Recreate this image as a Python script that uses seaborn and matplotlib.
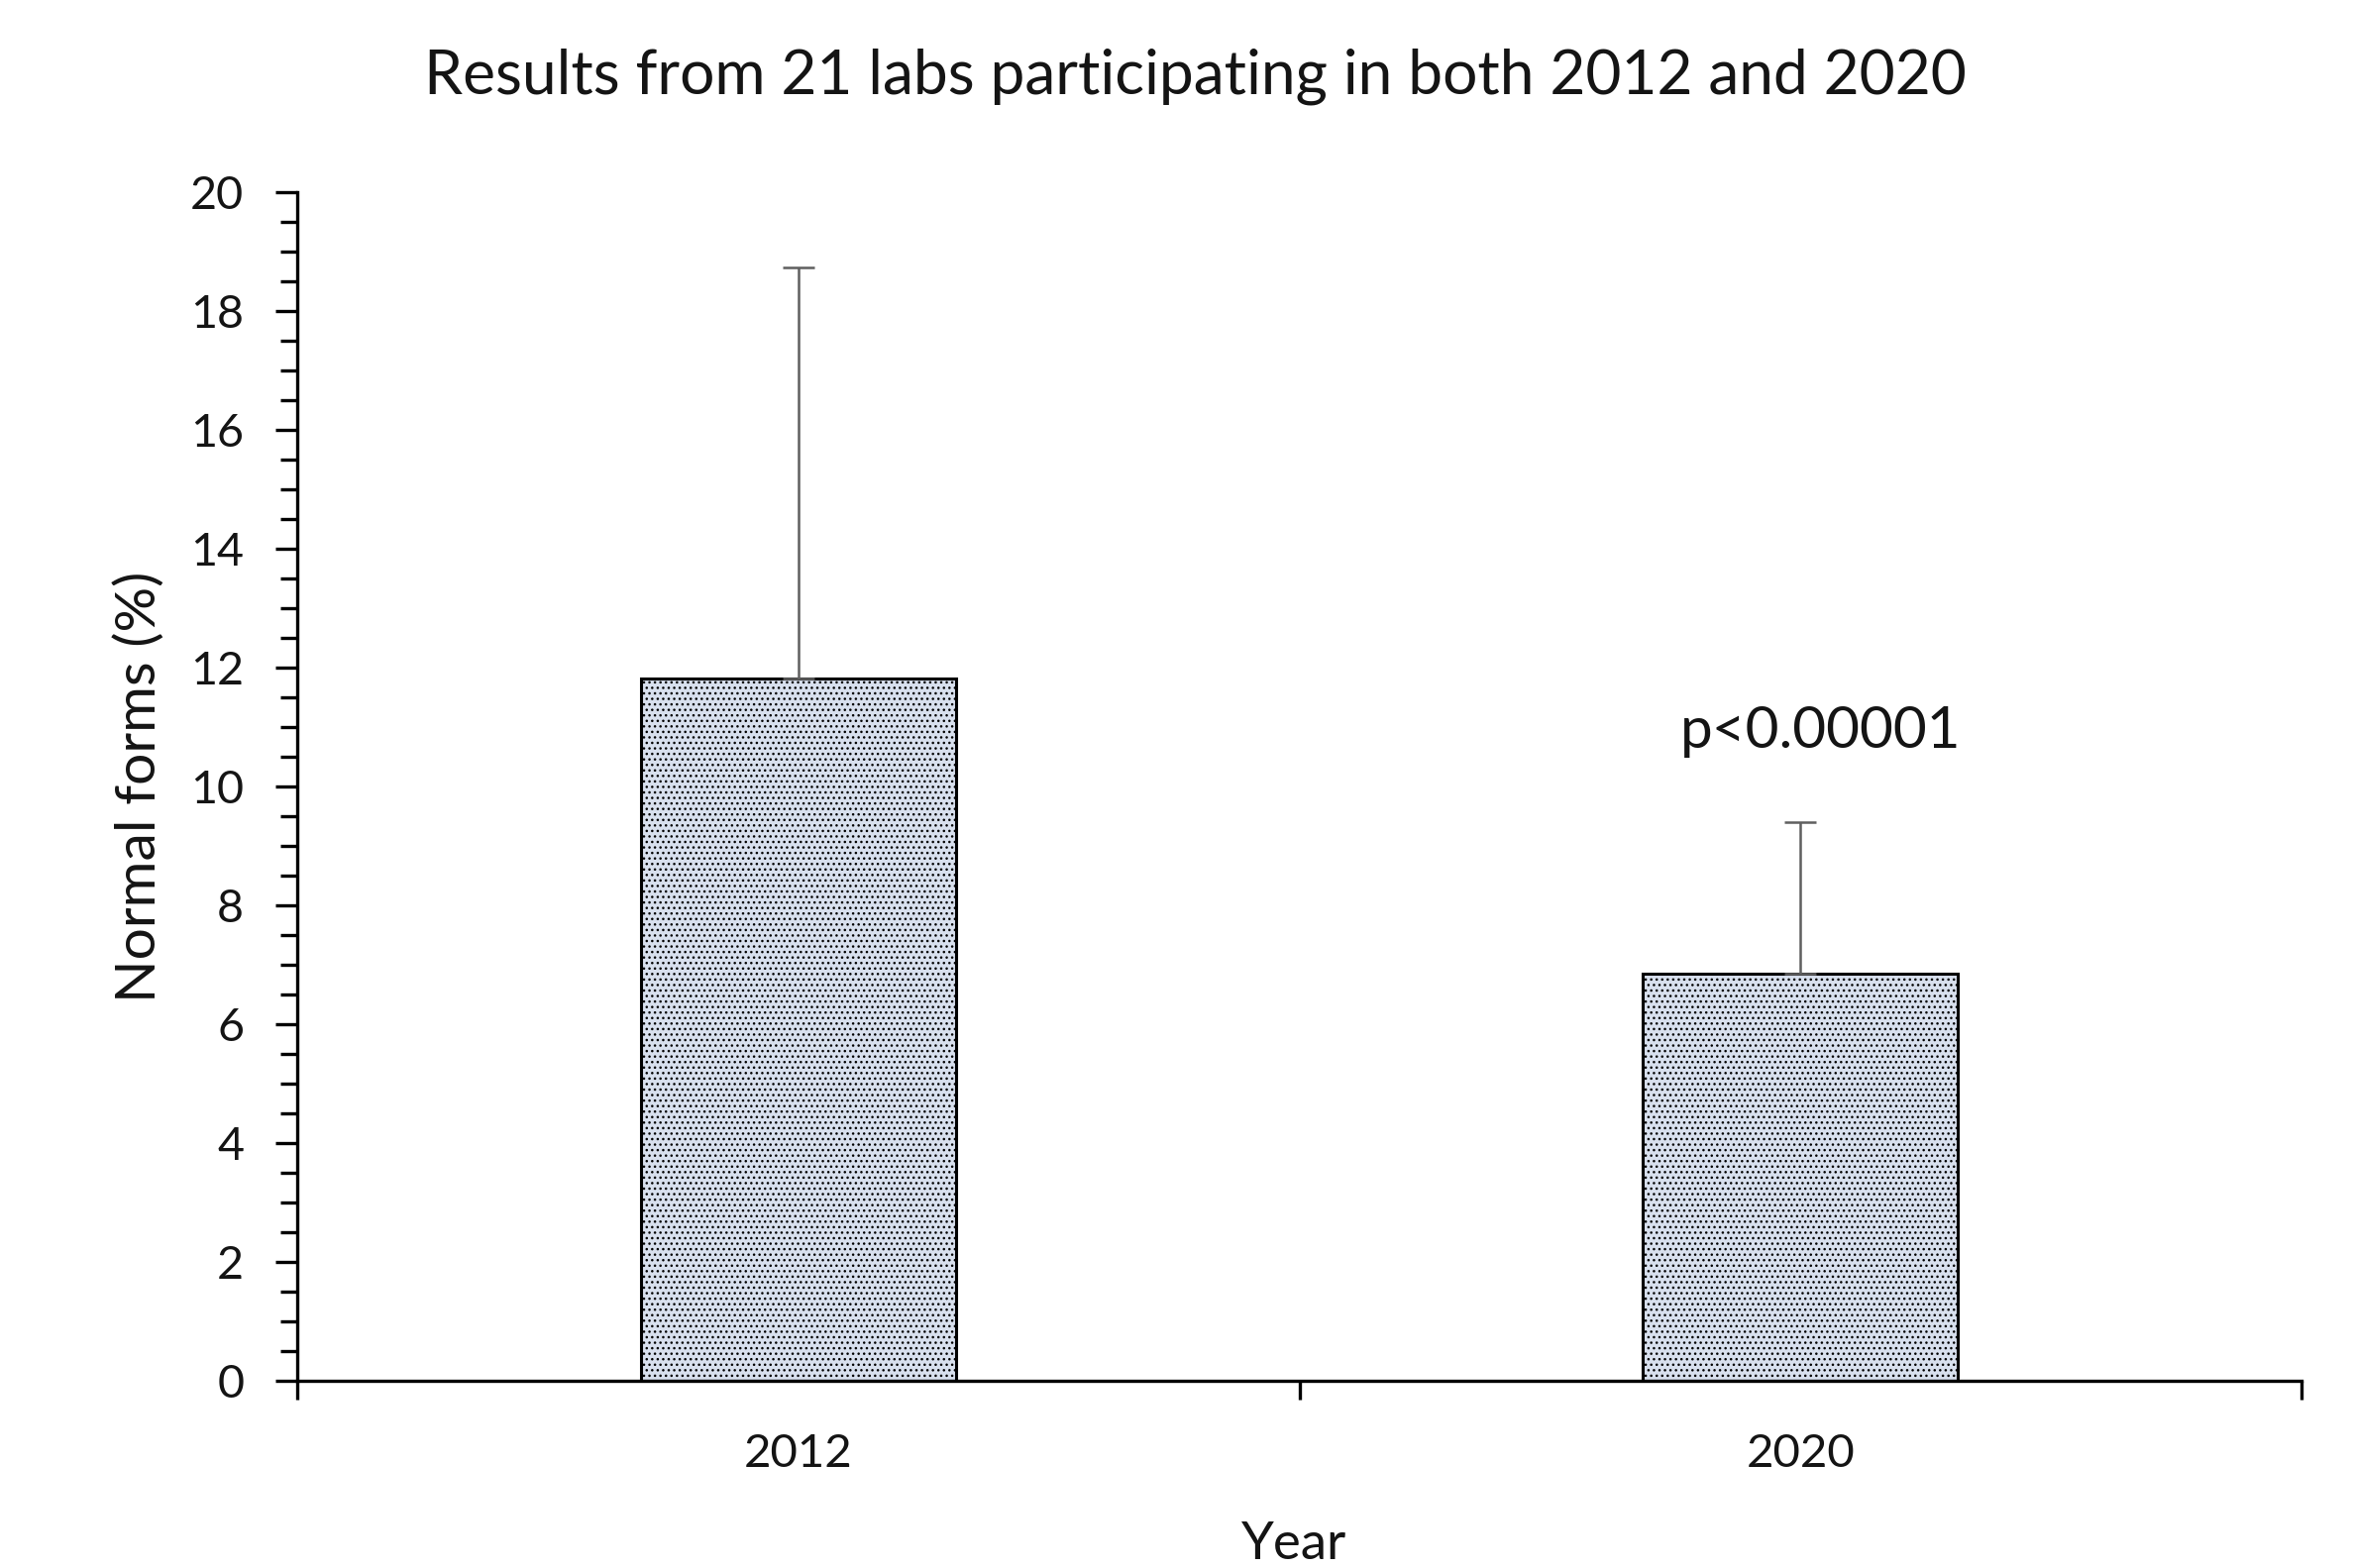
import matplotlib
matplotlib.use("Agg")
import matplotlib.pyplot as plt
import seaborn as sns
import pandas as pd
from matplotlib.ticker import MultipleLocator, FixedLocator, NullFormatter

# Normal sperm forms (%) for the 21 labs in each survey year
years = ["2012", "2020"]
mean_normal = [11.82, 6.85]
sd_normal = [6.92, 2.55]
p_label = "p<0.00001"

title = "Results from 21 labs participating in both 2012 and 2020"
x_label = "Year"
y_label = "Normal forms (%)"

sns.set_theme(style="white")
plt.rcParams["font.family"] = ["Lato", "DejaVu Sans"]
plt.rcParams["hatch.linewidth"] = 0.5
plt.rcParams["hatch.color"] = "#aebfdc"

df = pd.DataFrame({"year": years, "normal": mean_normal, "sd": sd_normal})

fig = plt.figure(figsize=(11.88, 7.915), dpi=200)
ax = fig.add_axes([0.1263, 0.1194, 0.8514, 0.758])

sns.barplot(data=df, x="year", y="normal", ax=ax, width=0.314,
            color="#d8e0ee", edgecolor="black", linewidth=1.1,
            errorbar=None, saturation=1)
for bar in ax.patches:
    bar.set_hatch("......")

# one-sided (upward) standard deviation bars
ax.errorbar(range(len(years)), df["normal"], yerr=[[0] * len(years), df["sd"]],
            fmt="none", ecolor="#5f5f5f", elinewidth=0.9, capsize=5.8,
            capthick=0.9, zorder=3)

ax.set_xlim(-0.5, len(years) - 0.5)
ax.set_ylim(0, 20)

for side in ["top", "right"]:
    ax.spines[side].set_visible(False)
for side in ["left", "bottom"]:
    ax.spines[side].set_linewidth(1.2)
    ax.spines[side].set_color("black")

text_color = "#141414"

# y axis: labelled every 2, minor marks every 0.5
ax.yaxis.set_major_locator(MultipleLocator(2))
ax.yaxis.set_minor_locator(MultipleLocator(0.5))
ax.tick_params(axis="y", which="major", direction="out", length=7.9, width=1.2,
               color="black", labelsize=16.8, pad=11.5, labelcolor=text_color,
               left=True)
ax.tick_params(axis="y", which="minor", direction="out", length=6, width=1.2,
               color="black", left=True)

# x axis: category labels centred, tick marks on category boundaries
ax.xaxis.set_minor_locator(FixedLocator([-0.5 + i for i in range(len(years) + 1)]))
ax.xaxis.set_minor_formatter(NullFormatter())
ax.tick_params(axis="x", which="major", length=0, labelsize=17, pad=19,
               labelcolor=text_color)
ax.tick_params(axis="x", which="minor", direction="out", length=7, width=1.2,
               color="black", bottom=True)

ax.set_xlabel(x_label, fontsize=19, color=text_color)
ax.set_ylabel(y_label, fontsize=20.5, color=text_color)
ax.xaxis.set_label_coords(0.4975, -0.118)
ax.yaxis.set_label_coords(-0.066, 0.5)

ax.text(1.02, 10.92, p_label, ha="center", va="center", fontsize=21,
        color=text_color)

fig.text(0.5076, 0.951, title, ha="center", va="center", fontsize=22.4,
         color=text_color)

fig.savefig("out.png", dpi=200, facecolor="white")
